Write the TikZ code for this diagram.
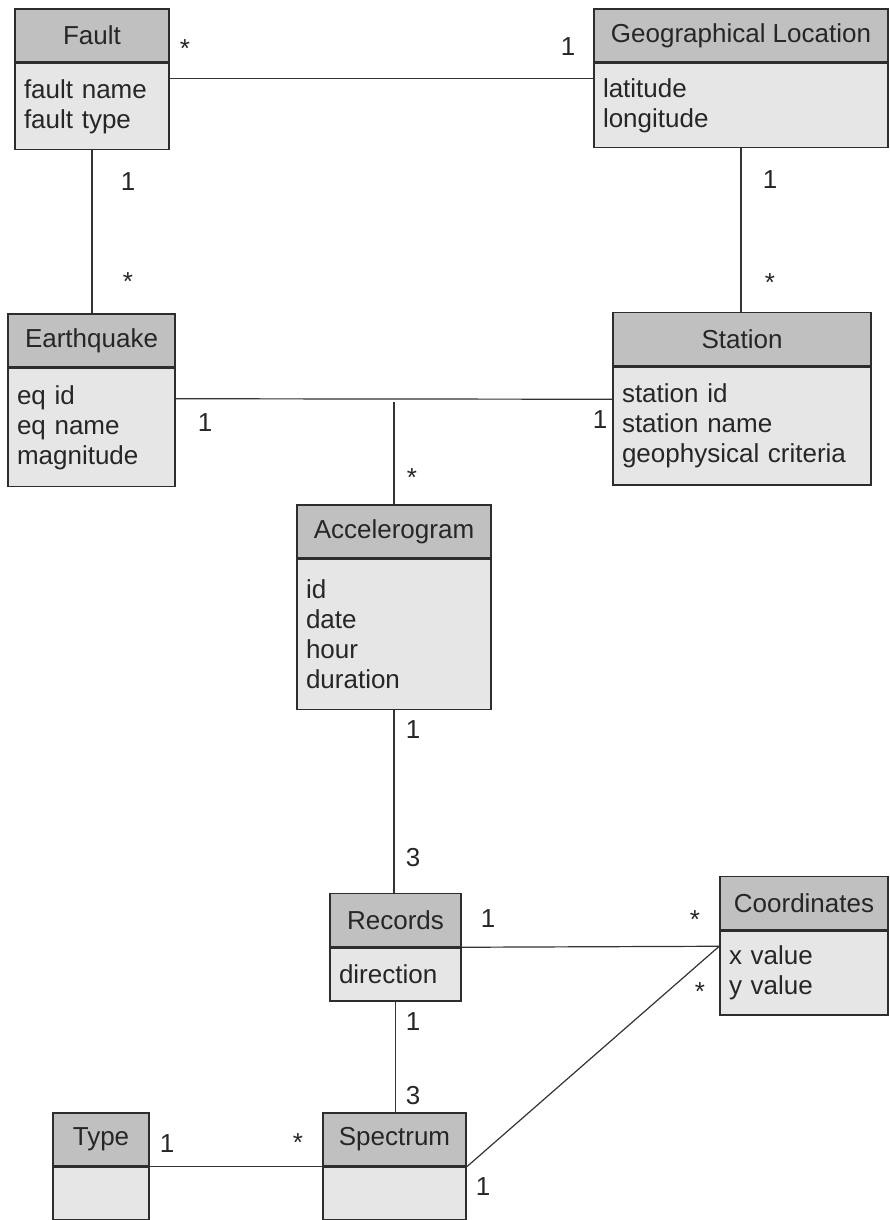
\documentclass[tikz,border=0pt]{standalone}
\usepackage{fontspec}
\setmainfont{Liberation Sans}
\usetikzlibrary{positioning}
\definecolor{headgray}{RGB}{192,192,192}
\definecolor{bodygray}{RGB}{230,230,230}
\definecolor{edgegray}{RGB}{45,45,45}

\begin{document}
\begin{tikzpicture}[x=1pt, y=-1pt, node distance=0pt,
    every node/.style={font=\fontsize{26}{30}\selectfont, text=black!85},
    classhead/.style={draw=edgegray, line width=1.5pt, fill=headgray, minimum height=53pt, inner sep=0pt},
    classbody/.style={draw=edgegray, line width=1.5pt, fill=bodygray, inner xsep=9pt, inner ysep=0pt, align=left},
    mult/.style={inner sep=0pt},
    assoc/.style={draw=black!80, line width=1.2pt}]
    \useasboundingbox (0,0) rectangle (889,1220);

    % classes
    \node[classhead, minimum width=154pt] (fault) at (92,35.5) {Fault};
    \node[classbody, below=of fault, minimum width=154pt, text width=136pt, minimum height=86pt] (faultB) {fault name\\fault type};
    \node[classhead, minimum width=294pt] (geo) at (741,35.5) {Geographical Location};
    \node[classbody, below=of geo, minimum width=294pt, text width=276pt, minimum height=84pt] (geoB) {latitude\\longitude};
    \node[classhead, minimum width=167pt] (quake) at (91.5,340.5) {Earthquake};
    \node[classbody, below=of quake, minimum width=167pt, text width=149pt, minimum height=118pt] (quakeB) {eq id\\eq name\\magnitude};
    \node[classhead, minimum width=258pt] (station) at (742,339) {Station};
    \node[classbody, below=of station, minimum width=258pt, text width=240pt, minimum height=118pt] (stationB) {station id\\station name\\geophysical criteria};
    \node[classhead, minimum width=194pt] (accel) at (394,531.5) {Accelerogram};
    \node[classbody, below=of accel, minimum width=194pt, text width=176pt, minimum height=150pt] (accelB) {id\\date\\hour\\duration};
    \node[classhead, minimum width=131pt] (records) at (395.5,920) {Records};
    \node[classbody, below=of records, minimum width=131pt, text width=113pt, minimum height=53pt] (recordsB) {direction};
    \node[classhead, minimum width=168pt] (coord) at (804,903) {Coordinates};
    \node[classbody, below=of coord, minimum width=168pt, text width=150pt, minimum height=84pt] (coordB) {x value\\y value};
    \node[classhead, minimum width=143pt] (spectrum) at (394.5,1139.5) {Spectrum};
    \node[classbody, below=of spectrum, minimum width=143pt, text width=125pt, minimum height=52pt] (spectrumB) {};
    \node[classhead, minimum width=96pt] (type) at (101,1139.5) {Type};
    \node[classbody, below=of type, minimum width=96pt, text width=78pt, minimum height=52pt] (typeB) {};

    % associations
    \coordinate (link) at (394,402);
    \draw[assoc] ([yshift=-16pt]faultB.north east) -- ([yshift=-16pt]geoB.north west);
    \draw[assoc] (faultB.south) -- (faultB.south |- quake.north);
    \draw[assoc] (geoB.south) -- (geoB.south |- station.north);
    \draw[assoc] ([yshift=-31pt]quakeB.north east) -- ([yshift=-33pt]stationB.north west);
    \draw[assoc] (link) -- (accel.north);
    \draw[assoc] (accelB.south) -- (accelB.south |- records.north);
    \draw[assoc] (recordsB.north east) -- ([yshift=-16pt]coordB.north west);
    \draw[assoc] (spectrumB.north east) -- ([yshift=-16pt]coordB.north west);
    \draw[assoc] (recordsB.south) -- (recordsB.south |- spectrum.north);
    \draw[assoc] (typeB.north east) -- (spectrumB.north west);

    % multiplicities
    \node[mult] (m1) at (185,49) {*};
    \node[mult] (m2) at (568,47) {1};
    \node[mult] (m3) at (128,182) {1};
    \node[mult] (m4) at (128,282) {*};
    \node[mult] (m5) at (770,180) {1};
    \node[mult] (m6) at (770,283) {*};
    \node[mult] (m7) at (205,423) {1};
    \node[mult] (m8) at (600,420) {1};
    \node[mult] (m9) at (412,478) {*};
    \node[mult] (m10) at (413,730) {1};
    \node[mult] (m11) at (413,858) {3};
    \node[mult] (m12) at (488,919) {1};
    \node[mult] (m13) at (695,920) {*};
    \node[mult] (m14) at (413,1022) {1};
    \node[mult] (m15) at (413,1096) {3};
    \node[mult] (m16) at (700,992) {*};
    \node[mult] (m17) at (483,1187) {1};
    \node[mult] (m18) at (167,1144) {1};
    \node[mult] (m19) at (298,1143) {*};
\end{tikzpicture}
\end{document}
